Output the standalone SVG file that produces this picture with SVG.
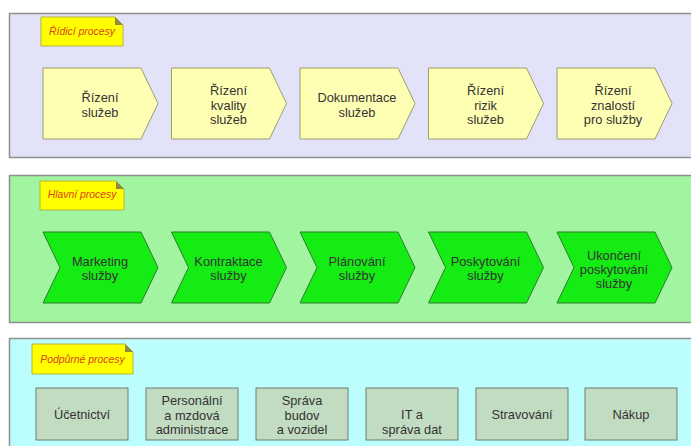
<svg xmlns="http://www.w3.org/2000/svg" width="691" height="446" viewBox="0 0 691 446">
<style>
.band{stroke:#8f8f8f;stroke-width:1.5}
.b1{fill:#e2e2f8}
.b2{fill:#a2f5a0}
.b3{fill:#bcfefe}
.note{fill:#ffff00;stroke:#b4b43c;stroke-width:1}
.fold{fill:#8c8c3c}
.lbl{font-family:"Liberation Sans",Arial,sans-serif;font-style:italic;font-size:10.4px;fill:#d8431c;text-anchor:middle}
.yel{fill:#ffffb4;stroke:#9c9c6c;stroke-width:1}
.grn{fill:#14ec14;stroke:#2c7c2c;stroke-width:1}
.box{fill:#c2dcc2;stroke:#707a70;stroke-width:1}
.t{font-family:"Liberation Sans",Arial,sans-serif;font-size:12.8px;fill:#333333;text-anchor:middle}
</style>
<g id="band-ridici">
<rect class="band b1" x="9.5" y="13.5" width="700" height="144"/>
<path class="note" d="M41,17H115L123,25V46H41Z"/>
<path class="fold" d="M115,17L123,25H115Z"/>
<text class="lbl" x="82" y="35">Řídicí procesy</text>
</g>
<g id="band-hlavni">
<rect class="band b2" x="9.5" y="175.5" width="700" height="147"/>
<path class="note" d="M40,181H116L124,189V210H40Z"/>
<path class="fold" d="M116,181L124,189H116Z"/>
<text class="lbl" x="82" y="198">Hlavní procesy</text>
</g>
<g id="band-podpurne">
<rect class="band b3" x="9.5" y="338.5" width="700" height="120"/>
<path class="note" d="M32,344H125L133,352V374H32Z"/>
<path class="fold" d="M125,344L133,352H125Z"/>
<text class="lbl" x="82.5" y="363">Podpůrné procesy</text>
</g>
<g id="connectors"></g>
<g id="n-rizeni-sluzeb">
<path class="yel" d="M43,68H141L158,103.5L141,139H43Z"/>
<text class="t" x="100" y="102">Řízení</text>
<text class="t" x="100" y="117">služeb</text>
</g>
<g id="n-rizeni-kvality">
<path class="yel" d="M171.5,68H269.5L286.5,103.5L269.5,139H171.5Z"/>
<text class="t" x="228.5" y="95">Řízení</text>
<text class="t" x="228.5" y="109.5">kvality</text>
<text class="t" x="228.5" y="124">služeb</text>
</g>
<g id="n-dokumentace">
<path class="yel" d="M300,68H398L415,103.5L398,139H300Z"/>
<text class="t" x="357" y="102">Dokumentace</text>
<text class="t" x="357" y="117">služeb</text>
</g>
<g id="n-rizeni-rizik">
<path class="yel" d="M428.5,68H526.5L543.5,103.5L526.5,139H428.5Z"/>
<text class="t" x="485.5" y="95">Řízení</text>
<text class="t" x="485.5" y="109.5">rizik</text>
<text class="t" x="485.5" y="124">služeb</text>
</g>
<g id="n-rizeni-znalosti">
<path class="yel" d="M557,68H655L672,103.5L655,139H557Z"/>
<text class="t" x="613" y="95">Řízení</text>
<text class="t" x="613" y="109.5">znalostí</text>
<text class="t" x="613" y="124">pro služby</text>
</g>
<g id="n-marketing">
<path class="grn" d="M43,232H141L158,267.5L141,303H43L60,267.5Z"/>
<text class="t" x="100" y="265.5">Marketing</text>
<text class="t" x="100" y="280">služby</text>
</g>
<g id="n-kontraktace">
<path class="grn" d="M171.5,232H269.5L286.5,267.5L269.5,303H171.5L188.5,267.5Z"/>
<text class="t" x="228.5" y="265.5">Kontraktace</text>
<text class="t" x="228.5" y="280">služby</text>
</g>
<g id="n-planovani">
<path class="grn" d="M300,232H398L415,267.5L398,303H300L317,267.5Z"/>
<text class="t" x="357" y="265.5">Plánování</text>
<text class="t" x="357" y="280">služby</text>
</g>
<g id="n-poskytovani">
<path class="grn" d="M428.5,232H526.5L543.5,267.5L526.5,303H428.5L445.5,267.5Z"/>
<text class="t" x="485.5" y="265.5">Poskytování</text>
<text class="t" x="485.5" y="280">služby</text>
</g>
<g id="n-ukonceni">
<path class="grn" d="M557,232H655L672,267.5L655,303H557L574,267.5Z"/>
<text class="t" x="614" y="259.5">Ukončení</text>
<text class="t" x="614" y="273.5">poskytování</text>
<text class="t" x="614" y="287.5">služby</text>
</g>
<g id="n-ucetnictvi">
<rect class="box" x="36" y="388" width="92" height="52"/>
<text class="t" x="82" y="419">Účetnictví</text>
</g>
<g id="n-personalni">
<rect class="box" x="146" y="388" width="92" height="52"/>
<text class="t" x="192" y="405">Personální</text>
<text class="t" x="192" y="419.5">a mzdová</text>
<text class="t" x="192" y="434">administrace</text>
</g>
<g id="n-sprava-budov">
<rect class="box" x="256" y="388" width="92" height="52"/>
<text class="t" x="302" y="405">Správa</text>
<text class="t" x="302" y="419.5">budov</text>
<text class="t" x="302" y="434">a vozidel</text>
</g>
<g id="n-it">
<rect class="box" x="366" y="388" width="92" height="52"/>
<text class="t" x="412" y="419">IT a</text>
<text class="t" x="412" y="433.5">správa dat</text>
</g>
<g id="n-stravovani">
<rect class="box" x="476" y="388" width="92" height="52"/>
<text class="t" x="522" y="419">Stravování</text>
</g>
<g id="n-nakup">
<rect class="box" x="585" y="388" width="92" height="52"/>
<text class="t" x="631" y="419">Nákup</text>
</g>
</svg>
